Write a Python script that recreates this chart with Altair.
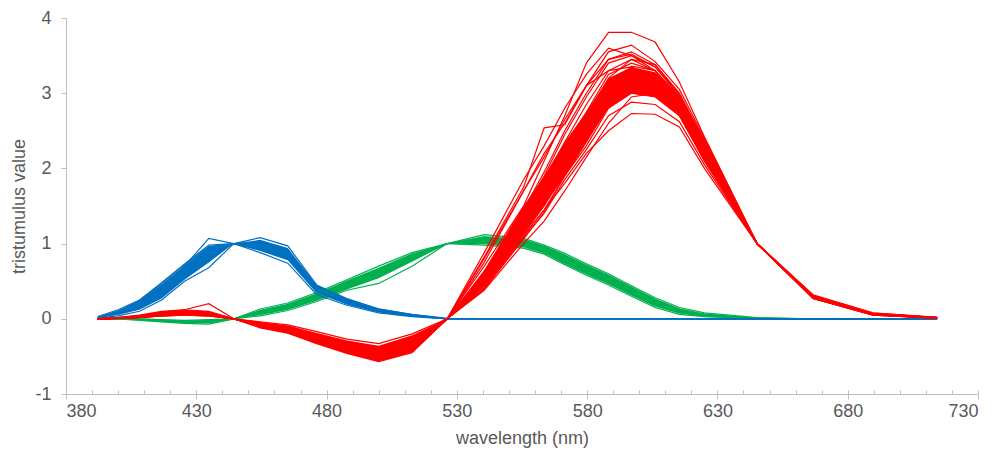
import altair as alt
import pandas as pd

# wavelengths (nm) of the measurement points
wavelength = [392.2, 400.0, 408.2, 416.7, 425.5, 434.8, 444.4, 454.5, 465.1, 476.2,
              487.8, 500.0, 512.8, 526.3, 540.5, 555.6, 563.5, 571.4, 579.7, 588.2,
              597.0, 606.1, 615.4, 625.0, 645.2, 666.7, 689.7, 714.3]

# dense core of the observer bands (lower / upper)
red_lo = [0, 0.005, 0.02, 0.04, 0.05, 0.04, 0, -0.11, -0.17, -0.31, -0.44, -0.55, -0.42, 0,
          0.45, 1.15, 1.5, 1.9, 2.35, 2.8, 3.0, 2.95, 2.72, 2.12, 1, 0.28, 0.055, 0.01]
red_hi = [0.01, 0.02, 0.05, 0.09, 0.11, 0.09, 0, -0.05, -0.09, -0.19, -0.29, -0.36, -0.22, 0,
          0.65, 1.5, 1.9, 2.35, 2.75, 3.2, 3.35, 3.28, 2.97, 2.37, 1, 0.31, 0.075, 0.02]
green_lo = [0, -0.005, -0.015, -0.035, -0.055, -0.06, 0, 0.05, 0.12, 0.24, 0.39, 0.54, 0.76, 1,
            0.99, 0.95, 0.87, 0.73, 0.59, 0.46, 0.31, 0.16, 0.07, 0.03, 0, 0, 0, 0]
green_hi = [0, 0, 0, -0.01, -0.02, -0.015, 0, 0.12, 0.2, 0.34, 0.51, 0.68, 0.87, 1,
            1.1, 1.06, 0.97, 0.86, 0.72, 0.59, 0.43, 0.27, 0.14, 0.07, 0.01, 0, 0, 0]
blue_lo = [0.01, 0.05, 0.12, 0.27, 0.52, 0.75, 1, 0.9, 0.78, 0.34, 0.19, 0.09, 0.035, 0,
           0, 0, 0, 0, 0, 0, 0, 0, 0, 0, 0, 0, 0, 0]
blue_hi = [0.03, 0.11, 0.24, 0.46, 0.71, 0.96, 1, 1.05, 0.94, 0.45, 0.27, 0.14, 0.065, 0.01,
           0, 0, 0, 0, 0, 0, 0, 0, 0, 0, 0, 0, 0, 0]

# individual observers
red_obs = [
    [0, 0.01, 0.03, 0.06, 0.08, 0.07, 0, -0.06, -0.12, -0.22, -0.33, -0.40, -0.30, 0, 0.7, 1.5, 2.1, 2.7, 3.4, 3.81, 3.81, 3.68, 3.15, 2.42, 1, 0.32, 0.08, 0.02],
    [0, 0.02, 0.05, 0.1, 0.12, 0.1, 0, -0.1, -0.17, -0.3, -0.44, -0.55, -0.42, 0, 0.75, 1.7, 2.2, 2.6, 3.1, 3.55, 3.64, 3.42, 3.05, 2.40, 1, 0.31, 0.075, 0.02],
    [0, 0.01, 0.04, 0.08, 0.1, 0.09, 0, -0.08, -0.15, -0.27, -0.40, -0.50, -0.38, 0, 0.6, 1.4, 1.9, 2.45, 2.95, 3.4, 3.5, 3.35, 2.95, 2.35, 1, 0.3, 0.07, 0.015],
    [0, 0.01, 0.03, 0.07, 0.09, 0.08, 0, -0.09, -0.16, -0.29, -0.42, -0.53, -0.40, 0, 0.55, 1.35, 1.8, 2.3, 2.75, 3.25, 3.4, 3.3, 2.9, 2.3, 1, 0.3, 0.065, 0.015],
    [0, 0.005, 0.02, 0.05, 0.07, 0.06, 0, -0.07, -0.13, -0.25, -0.37, -0.46, -0.33, 0, 0.5, 1.3, 1.7, 2.2, 2.6, 3.1, 3.3, 3.2, 2.85, 2.25, 1, 0.29, 0.06, 0.012],
    [0, 0.01, 0.03, 0.06, 0.08, 0.06, 0, -0.11, -0.18, -0.31, -0.45, -0.56, -0.43, 0, 0.5, 1.2, 1.6, 2.1, 2.5, 3.0, 3.2, 3.1, 2.8, 2.2, 1, 0.29, 0.06, 0.012],
    [0, 0.005, 0.02, 0.04, 0.05, 0.04, 0, -0.12, -0.19, -0.33, -0.46, -0.57, -0.45, 0, 0.45, 1.15, 1.55, 2.0, 2.4, 2.9, 3.1, 3.05, 2.75, 2.15, 1, 0.28, 0.055, 0.01],
    [0, 0.01, 0.03, 0.05, 0.07, 0.05, 0, -0.05, -0.1, -0.2, -0.3, -0.38, -0.25, 0, 0.42, 1.1, 1.45, 1.9, 2.3, 2.8, 3.0, 2.95, 2.7, 2.1, 1, 0.28, 0.055, 0.01],
    [0, 0.01, 0.02, 0.05, 0.06, 0.05, 0, -0.07, -0.14, -0.26, -0.38, -0.48, -0.34, 0, 0.4, 1.08, 1.4, 1.85, 2.25, 2.7, 2.88, 2.85, 2.62, 2.05, 1, 0.27, 0.05, 0.01],
    [0, 0.005, 0.02, 0.04, 0.06, 0.05, 0, -0.04, -0.08, -0.17, -0.27, -0.33, -0.2, 0, 0.45, 1.1, 1.45, 1.8, 2.2, 2.5, 2.73, 2.72, 2.55, 2.0, 1, 0.27, 0.05, 0.01],
    [0, 0.01, 0.04, 0.09, 0.12, 0.2, 0, -0.09, -0.16, -0.28, -0.41, -0.52, -0.38, 0, 0.82, 1.75, 2.54, 2.58, 3.1, 3.3, 3.35, 3.2, 2.9, 2.3, 1, 0.3, 0.07, 0.015],
    [0, 0.01, 0.03, 0.07, 0.09, 0.07, 0, -0.08, -0.14, -0.27, -0.39, -0.49, -0.36, 0, 0.52, 1.25, 1.65, 2.15, 2.7, 3.2, 3.45, 3.38, 3.0, 2.35, 1, 0.3, 0.065, 0.015],
    [0, 0.005, 0.02, 0.05, 0.07, 0.06, 0, -0.09, -0.15, -0.28, -0.41, -0.52, -0.39, 0, 0.48, 1.2, 1.6, 2.05, 2.55, 3.05, 3.28, 3.22, 2.88, 2.28, 1, 0.29, 0.06, 0.012],
    [0, 0.01, 0.04, 0.08, 0.1, 0.08, 0, -0.07, -0.12, -0.24, -0.36, -0.45, -0.31, 0, 0.58, 1.35, 1.85, 2.35, 2.85, 3.3, 3.45, 3.3, 2.92, 2.3, 1, 0.3, 0.07, 0.015],
    [0, 0.01, 0.02, 0.05, 0.06, 0.05, 0, -0.1, -0.17, -0.3, -0.43, -0.54, -0.41, 0, 0.44, 1.12, 1.5, 1.95, 2.45, 2.95, 3.15, 3.12, 2.8, 2.2, 1, 0.28, 0.055, 0.01],
    [0, 0.015, 0.04, 0.09, 0.11, 0.09, 0, -0.06, -0.11, -0.21, -0.32, -0.39, -0.27, 0, 0.62, 1.45, 1.95, 2.5, 3.0, 3.45, 3.55, 3.38, 2.98, 2.36, 1, 0.31, 0.07, 0.015],
    [0, 0.005, 0.02, 0.05, 0.06, 0.05, 0, -0.08, -0.14, -0.26, -0.39, -0.5, -0.37, 0, 0.5, 1.18, 1.58, 2.02, 2.5, 3.02, 3.22, 3.18, 2.86, 2.24, 1, 0.29, 0.06, 0.012],
    [0, 0.01, 0.03, 0.06, 0.08, 0.07, 0, -0.1, -0.16, -0.29, -0.43, -0.53, -0.4, 0, 0.46, 1.14, 1.52, 2.0, 2.48, 2.98, 3.36, 3.3, 2.9, 2.27, 1, 0.29, 0.06, 0.012],
    [0, 0.01, 0.03, 0.06, 0.07, 0.06, 0, -0.06, -0.11, -0.22, -0.34, -0.42, -0.29, 0, 0.55, 1.3, 1.75, 2.25, 2.65, 3.15, 3.25, 3.12, 2.78, 2.18, 1, 0.28, 0.055, 0.01],
    [0, 0.005, 0.015, 0.04, 0.05, 0.04, 0, -0.11, -0.18, -0.32, -0.45, -0.55, -0.43, 0, 0.4, 1.06, 1.42, 1.9, 2.35, 2.85, 3.05, 2.98, 2.7, 2.12, 1, 0.27, 0.05, 0.01],
    [0, 0.01, 0.03, 0.07, 0.09, 0.08, 0, -0.07, -0.13, -0.24, -0.36, -0.44, -0.3, 0, 0.88, 1.85, 2.3, 2.8, 3.25, 3.6, 3.5, 3.3, 2.95, 2.35, 1, 0.3, 0.07, 0.015],
    [0, 0.01, 0.04, 0.08, 0.1, 0.08, 0, -0.08, -0.14, -0.25, -0.37, -0.46, -0.32, 0, 0.8, 1.7, 2.15, 2.65, 3.1, 3.45, 3.52, 3.35, 2.98, 2.38, 1, 0.31, 0.07, 0.015],
    [0, 0.005, 0.02, 0.04, 0.05, 0.04, 0, -0.1, -0.17, -0.31, -0.44, -0.55, -0.44, 0, 0.38, 1.0, 1.3, 1.7, 2.15, 2.6, 2.95, 3.0, 2.72, 2.1, 1, 0.28, 0.055, 0.01],
]
green_obs = [
    [0, 0, -0.02, -0.04, -0.06, -0.07, 0, 0.13, 0.21, 0.35, 0.52, 0.70, 0.88, 1, 1.12, 1.07, 0.98, 0.87, 0.73, 0.60, 0.44, 0.28, 0.15, 0.08, 0.015, 0, 0, 0],
    [0, 0, 0, -0.01, -0.02, -0.01, 0, 0.04, 0.11, 0.23, 0.38, 0.47, 0.7, 1, 0.98, 0.94, 0.86, 0.72, 0.58, 0.45, 0.30, 0.15, 0.06, 0.03, 0, 0, 0, 0],
    [0, 0, -0.01, -0.02, -0.04, -0.04, 0, 0.08, 0.16, 0.29, 0.45, 0.61, 0.82, 1, 1.05, 1.0, 0.92, 0.8, 0.66, 0.52, 0.37, 0.22, 0.1, 0.05, 0.005, 0, 0, 0],
    [0, 0, -0.01, -0.03, -0.05, -0.05, 0, 0.1, 0.18, 0.32, 0.48, 0.66, 0.85, 1, 1.08, 1.04, 0.95, 0.84, 0.7, 0.57, 0.41, 0.25, 0.12, 0.06, 0.01, 0, 0, 0],
    [0, 0, 0, -0.02, -0.03, -0.03, 0, 0.06, 0.13, 0.26, 0.41, 0.56, 0.78, 1, 1.02, 0.97, 0.89, 0.75, 0.62, 0.48, 0.33, 0.18, 0.08, 0.04, 0.005, 0, 0, 0],
]
blue_obs = [
    [0.02, 0.08, 0.2, 0.42, 0.7, 1.07, 1, 1.02, 0.9, 0.42, 0.25, 0.12, 0.05, 0, 0, 0, 0, 0, 0, 0, 0, 0, 0, 0, 0, 0, 0, 0],
    [0.02, 0.1, 0.24, 0.47, 0.72, 0.96, 1, 1.08, 0.97, 0.45, 0.27, 0.13, 0.06, 0.005, 0, 0, 0, 0, 0, 0, 0, 0, 0, 0, 0, 0, 0, 0],
    [0.01, 0.04, 0.1, 0.25, 0.5, 0.68, 1, 0.88, 0.74, 0.32, 0.18, 0.08, 0.03, 0, 0, 0, 0, 0, 0, 0, 0, 0, 0, 0, 0, 0, 0, 0],
    [0.02, 0.07, 0.16, 0.36, 0.6, 0.85, 1, 0.97, 0.85, 0.38, 0.22, 0.1, 0.04, 0, 0, 0, 0, 0, 0, 0, 0, 0, 0, 0, 0, 0, 0, 0],
    [0.03, 0.12, 0.25, 0.48, 0.73, 0.98, 1, 0.92, 0.8, 0.36, 0.2, 0.09, 0.04, 0, 0, 0, 0, 0, 0, 0, 0, 0, 0, 0, 0, 0, 0, 0],
]

x_major = [380, 430, 480, 530, 580, 630, 680, 730]
x_minor = list(range(380, 731, 10))
y_ticks = [-1, 0, 1, 2, 3, 4]

RED, GREEN, BLUE = "#FF0000", "#00B050", "#0070C0"
AXC, LBC = "#BFBFBF", "#595959"
FONT = "Liberation Sans"
W, H = 912, 376


def band_df(lo, hi):
    return pd.DataFrame({"wl": wavelength, "lo": lo, "hi": hi})


def obs_df(obs):
    rows = []
    for i, curve in enumerate(obs):
        for w, v in zip(wavelength, curve):
            rows.append({"wl": w, "v": v, "obs": i})
    return pd.DataFrame(rows)


xscale = alt.Scale(domain=[380, 730], nice=False, zero=False)
yscale = alt.Scale(domain=[-1, 4], nice=False, zero=False)
yaxis = alt.Axis(values=y_ticks, title="tristumulus value", grid=False,
                 domainColor=AXC, tickColor=AXC, tickSize=5, labelColor=LBC,
                 labelFontSize=18, labelFont=FONT, labelPadding=10,
                 labelExpr="datum.value + ''",
                 titleFont=FONT, titleFontSize=18, titleFontWeight="normal",
                 titleColor=LBC, titlePadding=6)
xaxis_main = alt.Axis(values=x_major, title="wavelength (nm)", grid=False,
                      domainColor=AXC, tickColor=AXC, tickSize=5, labelColor=LBC,
                      labelFontSize=18, labelFont=FONT, labelPadding=3,
                      labelExpr="datum.value + ''",
                      titleFont=FONT, titleFontSize=18, titleFontWeight="normal",
                      titleColor=LBC, titlePadding=9)
xaxis_minor = alt.Axis(values=x_minor, orient="top", offset=-H, labels=False,
                       title=None, grid=False, domain=False, tickColor=AXC, tickSize=4)


def band(lo, hi, color, xaxis):
    return alt.Chart(band_df(lo, hi)).mark_area(color=color, opacity=1).encode(
        x=alt.X("wl:Q", scale=xscale, axis=xaxis),
        y=alt.Y("lo:Q", scale=yscale, axis=yaxis),
        y2="hi:Q",
    )


def lines(obs, color):
    return alt.Chart(obs_df(obs)).mark_line(color=color, strokeWidth=1.2).encode(
        x=alt.X("wl:Q", scale=xscale, axis=None),
        y=alt.Y("v:Q", scale=yscale, axis=yaxis),
        detail="obs:N",
    )


chart = alt.layer(
    band(green_lo, green_hi, GREEN, xaxis_main),
    band(blue_lo, blue_hi, BLUE, xaxis_minor),
    lines(green_obs, GREEN),
    lines(blue_obs, BLUE),
    band(red_lo, red_hi, RED, None),
    lines(red_obs, RED),
).resolve_axis(x="independent").properties(
    width=W, height=H,
    autosize=alt.AutoSizeParams(type="none"),
    padding={"left": 58, "top": 10, "right": 10, "bottom": 56},
).configure_view(stroke=None)

chart.save("out.html", embed_options={"renderer": "svg", "actions": False})
